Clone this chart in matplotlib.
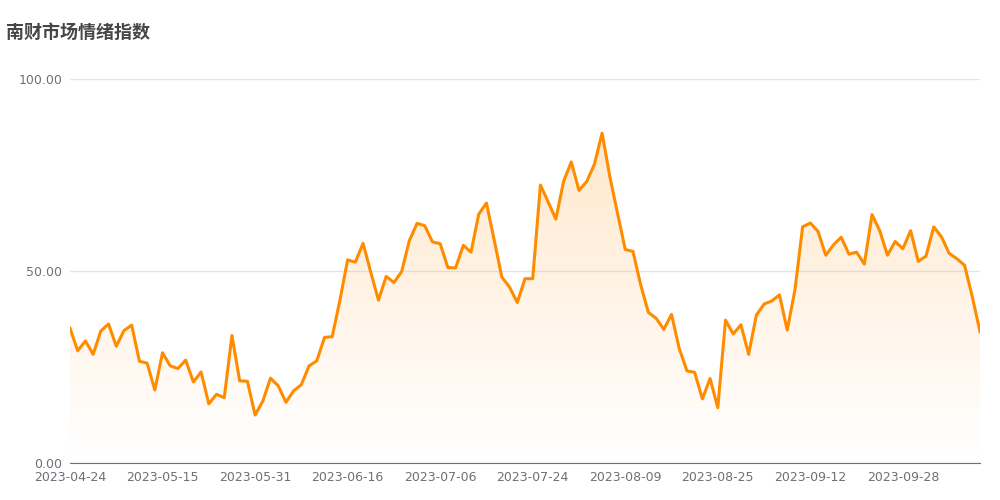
import numpy as np
import pandas as pd
import matplotlib
matplotlib.use("Agg")
import matplotlib.pyplot as plt
from matplotlib.colors import LinearSegmentedColormap

plt.rcParams["font.family"] = ["DejaVu Sans", "Noto Sans CJK SC"]

# trading days (Shanghai), 2023-04-24 .. 2023-10-20
holidays = ["2023-05-01", "2023-05-02", "2023-05-03", "2023-06-22", "2023-06-23",
            "2023-09-29", "2023-10-02", "2023-10-03", "2023-10-04", "2023-10-05",
            "2023-10-06"]
days = pd.bdate_range("2023-04-24", "2023-10-20", freq="C", holidays=holidays)
dates = [d.strftime("%Y-%m-%d") for d in days]

sentiment = [
    35.1, 29.2, 31.8, 28.3, 34.4, 36.2, 30.4, 34.5, 35.9, 26.5,
    26.0, 19.0, 28.7, 25.3, 24.6, 26.8, 21.1, 23.7, 15.4, 17.9,
    17.0, 33.2, 21.4, 21.3, 12.5, 16.1, 22.1, 20.1, 15.8, 18.8,
    20.4, 25.3, 26.6, 32.7, 32.9, 42.4, 52.9, 52.3, 57.2, 49.7,
    42.4, 48.6, 47.0, 49.8, 57.9, 62.4, 61.8, 57.6, 57.1, 50.9,
    50.8, 56.7, 54.9, 64.8, 67.7, 58.1, 48.4, 45.8, 41.8, 48.0,
    48.0, 72.4, 68.0, 63.5, 73.3, 78.4, 71.0, 73.3, 77.8, 85.9,
    74.6, 65.0, 55.6, 55.1, 46.4, 39.2, 37.7, 34.8, 38.7, 29.8,
    24.0, 23.6, 16.7, 22.0, 14.4, 37.2, 33.6, 36.0, 28.3, 38.5,
    41.4, 42.2, 43.8, 34.6, 45.0, 61.5, 62.5, 60.3, 54.1, 56.8,
    58.8, 54.4, 54.9, 51.8, 64.7, 60.5, 54.1, 57.7, 55.8, 60.5,
    52.5, 53.9, 61.5, 58.9, 54.6, 53.2, 51.5, 43.3, 34.2,
]

x = np.arange(len(sentiment))
y = np.array(sentiment)
line_color = "#ff8c00"

fig = plt.figure(figsize=(10, 5), dpi=100)
ax = fig.add_axes([0.07, 0.074, 0.91, 0.768])

# gradient area under the line
cmap = LinearSegmentedColormap.from_list(
    "fade", [(1.0, 0.55, 0.0, 0.0), (1.0, 0.55, 0.0, 0.2)])
grad = np.linspace(0, 1, 256).reshape(-1, 1)
area = ax.fill_between(x, y, 0, color="none")
img = ax.imshow(grad, cmap=cmap, aspect="auto", origin="lower",
                extent=[x[0], x[-1], 0, y.max()], zorder=1)
img.set_clip_path(area.get_paths()[0], transform=ax.transData)

ax.plot(x, y, color=line_color, lw=2.2, zorder=3, solid_joinstyle="round")

ax.set_xlim(x[0], x[-1])
ax.set_ylim(0, 100)
ax.set_yticks([0, 50, 100])
ax.set_yticklabels(["0.00", "50.00", "100.00"])
ticks = list(range(0, len(dates), 12))
ax.set_xticks(ticks)
ax.set_xticklabels([dates[i] for i in ticks])

ax.grid(axis="y", color="#e0e6f1", lw=1)
ax.set_axisbelow(True)
for side in ["top", "right", "left"]:
    ax.spines[side].set_visible(False)
ax.spines["bottom"].set_color("#6e7079")
ax.tick_params(axis="both", length=0, labelsize=9, colors="#6e7079")
ax.tick_params(axis="y", pad=5.5)
ax.tick_params(axis="x", pad=6)

fig.text(0.006, 0.936, "南财市场情绪指数", fontsize=13, fontweight="bold",
         color="#464646", va="center",
         family=["Noto Sans CJK SC", "DejaVu Sans"])

fig.savefig("out.png", dpi=100)
